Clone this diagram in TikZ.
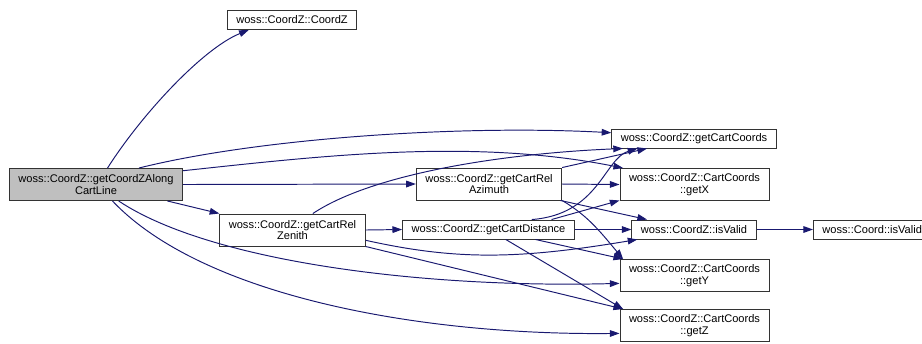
\documentclass[tikz,border=0pt]{standalone}
\usepackage{fontspec}
\setmainfont{Liberation Sans}
\usepackage{tikz}
\usetikzlibrary{arrows.meta}
\definecolor{edgeblue}{RGB}{25,25,112}

\begin{document}
\begin{tikzpicture}[x=0.02cm, y=-0.02cm,
    box/.style={draw=black!80, line width=0.55pt, minimum height=0.38cm,
                inner xsep=0.18cm, inner ysep=1pt, align=center,
                font=\fontsize{6.3}{6.6}\selectfont},
    tall/.style={box, minimum height=0.64cm},
    arr/.style={-{Triangle[length=5.5pt,width=3.8pt]}, draw=edgeblue, line width=0.55pt}
  ]
    \useasboundingbox (0,0) rectangle (922,343);

    \node[tall, fill=black!25] (main)   at (96,184.5)  {woss::CoordZ::getCoordZAlong\\CartLine};
    \node[box]                 (coordz) at (292,20)    {woss::CoordZ::CoordZ};
    \node[tall]                (azim)   at (489,184)   {woss::CoordZ::getCartRel\\Azimuth};
    \node[tall]                (zenith) at (292.5,230) {woss::CoordZ::getCartRel\\Zenith};
    \node[box]                 (dist)   at (488.5,229.5) {woss::CoordZ::getCartDistance};
    \node[box]                 (cc)     at (694,138.5) {woss::CoordZ::getCartCoords};
    \node[tall]                (getx)   at (694.5,184.5) {woss::CoordZ::CartCoords\\::getX};
    \node[box]                 (isv)    at (694,229.5) {woss::CoordZ::isValid};
    \node[tall]                (gety)   at (694.5,275.5) {woss::CoordZ::CartCoords\\::getY};
    \node[tall]                (getz)   at (694.5,325.5) {woss::CoordZ::CartCoords\\::getZ};
    \node[box, anchor=west]    (cisv)   at (813,229.5) {woss::Coord::isValid};

    % calls made by getCoordZAlongCartLine
    \draw[arr] (main.55) .. controls +(35,-55) and +(-45,18) .. (coordz.193);
    \draw[arr] (main.21) .. controls +(120,-30) and +(-150,-8) .. (cc.176);
    \draw[arr] (main.9) .. controls +(140,-15) and +(-150,-30) .. (getx.167);
    \draw[arr] (main.east) -- (azim.west);
    \draw[arr] (main.-13) -- (zenith.north west);
    \draw[arr] (main.-36) .. controls +(90,60) and +(-200,5) .. (gety.186);
    \draw[arr] (main.-45) .. controls +(90,95) and +(-200,2) .. (getz.186);

    % calls made by getCartRelZenith
    \draw[arr] (zenith.39) .. controls +(60,-40) and +(-120,5) .. (cc.188);
    \draw[arr] (zenith.east) -- (dist.west);
    \draw[arr] (zenith.-8) .. controls +(90,20) and +(-120,20) .. (isv.190);
    \draw[arr] (zenith.south east) -- (getz.167);

    % calls made by getCartRelAzimuth
    \draw[arr] (azim.north east) -- (cc.192);
    \draw[arr] (azim.east) -- (getx.west);
    \draw[arr] (azim.-13) -- (isv.168);
    \draw[arr] (azim.south east) .. controls +(25,15) and +(-25,-30) .. (gety.167);

    % calls made by getCartDistance
    \draw[arr] (dist.13) .. controls +(67,-5) and +(-33,10) .. (cc.190);
    \draw[arr] (dist.9) -- (getx.192);
    \draw[arr] (dist.east) -- (isv.west);
    \draw[arr] (dist.-12) -- (gety.167);
    \draw[arr] (dist.-30) -- (getz.167);

    \draw[arr] (isv.east) -- (cisv.west);
  \end{tikzpicture}
\end{document}
